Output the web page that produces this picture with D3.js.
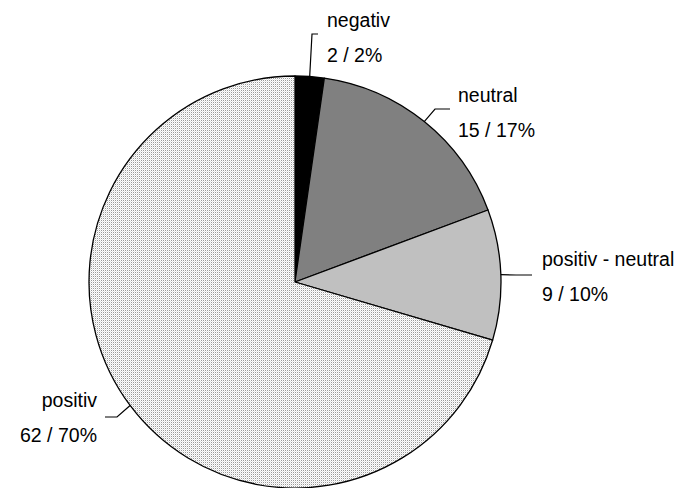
<!DOCTYPE html>
<html>
<head>
<meta charset="utf-8">
<script src="https://cdn.jsdelivr.net/npm/d3@7"></script>
<style>
  html, body { margin: 0; padding: 0; background: #fff; }
  svg { display: block; }
  text { font-family: "Liberation Sans", Arial, sans-serif; fill: #000; }
</style>
</head>
<body>
<svg id="chart" width="683" height="488"></svg>
<script>
// Answer categories and counts (clockwise from 12 o'clock)
const categories = ["negativ", "neutral", "positiv - neutral", "positiv"];
const counts = [2, 15, 9, 62];
const percentLabels = ["2%", "17%", "10%", "70%"];

const svg = d3.select("#chart");
const W = 683, H = 488;
const cx = 295, cy = 282, R = 206;

// dotted fill for the largest slice
const defs = svg.append("defs");
const pat = defs.append("pattern")
  .attr("id", "dots")
  .attr("patternUnits", "userSpaceOnUse")
  .attr("width", 2).attr("height", 2);
pat.append("rect").attr("width", 2).attr("height", 2).attr("fill", "#ffffff");
pat.append("rect").attr("x", 0).attr("y", 0).attr("width", 1).attr("height", 1).attr("fill", "#9a9a9a");
pat.append("rect").attr("x", 1).attr("y", 1).attr("width", 1).attr("height", 1).attr("fill", "#e4e4e4");

const fills = d3.scaleOrdinal()
  .domain(categories)
  .range(["#000000", "#808080", "#c0c0c0", "url(#dots)"]);

const data = categories.map((c, i) => ({ cat: c, value: counts[i], pct: percentLabels[i] }));

const pie = d3.pie().sort(null).value(d => d.value);
const arcs = pie(data);
const arc = d3.arc().innerRadius(0).outerRadius(R);

const g = svg.append("g").attr("transform", `translate(${cx},${cy})`);

g.selectAll("path.slice")
  .data(arcs)
  .join("path")
  .attr("class", "slice")
  .attr("d", arc)
  .attr("fill", d => fills(d.data.cat))
  .attr("stroke", "#000")
  .attr("stroke-width", 1.3)
  .attr("stroke-linejoin", "round");

// label placement: elbow point, end of leader, text anchor point
const labelLayout = {
  "negativ":           { elbow: [312, 34],  end: [318, 34],  tx: 327, ty: 27,  anchor: "start" },
  "neutral":           { elbow: [435, 109], end: [450, 109], tx: 458, ty: 102, anchor: "start" },
  "positiv - neutral": { elbow: [516, 275], end: [532, 275], tx: 542, ty: 266, anchor: "start" },
  "positiv":           { elbow: [117, 417], end: [105, 417], tx: 97,  ty: 407, anchor: "end" }
};

const lineGap = 34.5;

arcs.forEach(a => {
  const L = labelLayout[a.data.cat];
  const mid = (a.startAngle + a.endAngle) / 2;
  const sx = cx + R * Math.sin(mid);
  const sy = cy - R * Math.cos(mid);
  svg.append("polyline")
    .attr("points", [[sx, sy], L.elbow, L.end].map(p => p.join(",")).join(" "))
    .attr("fill", "none")
    .attr("stroke", "#000")
    .attr("stroke-width", 1.2);

  const t = svg.append("text")
    .attr("text-anchor", L.anchor)
    .attr("font-size", 19.5);
  t.append("tspan").attr("x", L.tx).attr("y", L.ty).text(a.data.cat);
  t.append("tspan").attr("x", L.tx).attr("y", L.ty + lineGap)
    .text(`${a.data.value} / ${a.data.pct}`);
});
</script>
</body>
</html>
